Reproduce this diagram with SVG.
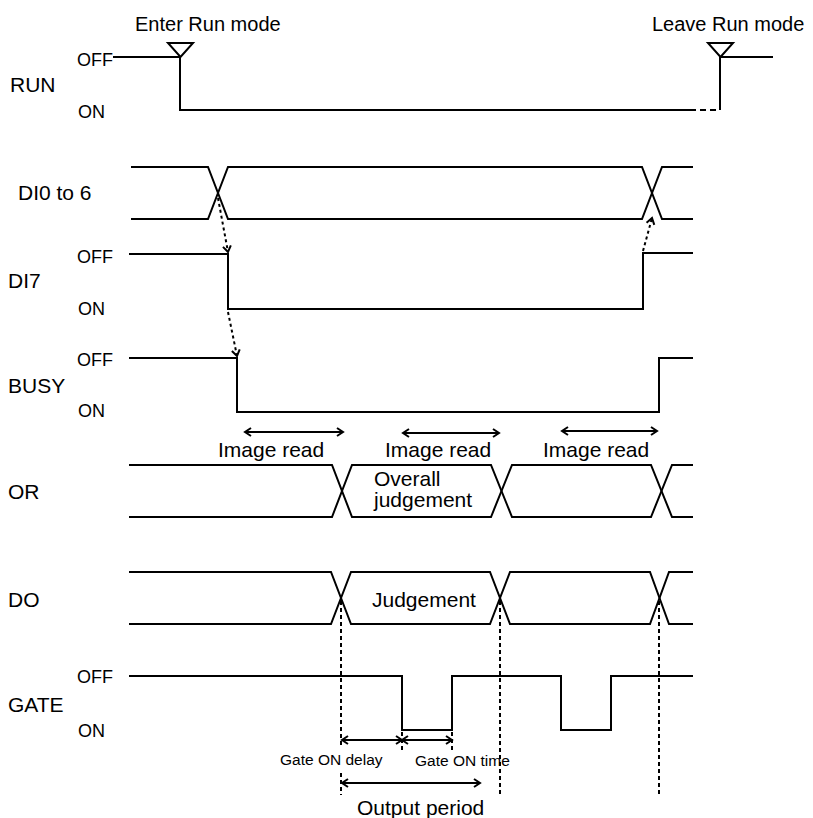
<svg xmlns="http://www.w3.org/2000/svg" width="813" height="818" viewBox="0 0 813 818">
  <style>
    .sig { fill: none; stroke: #000; stroke-width: 2; stroke-linejoin: miter; }
    .dash { fill: none; stroke: #000; stroke-width: 2; stroke-dasharray: 6 4; }
    .dot { fill: none; stroke: #000; stroke-width: 2; stroke-dasharray: 4 3; }
    .causal { fill: none; stroke: #000; stroke-width: 2; stroke-dasharray: 3 3; }
    .dim { fill: none; stroke: #000; stroke-width: 2; }
    .lbl { font-family: "Liberation Sans", Arial, sans-serif; font-size: 21px; fill: #000; }
    .lvl { font-family: "Liberation Sans", Arial, sans-serif; font-size: 18px; fill: #000; }
    .small { font-family: "Liberation Sans", Arial, sans-serif; font-size: 15.5px; fill: #000; }
    .tri { fill: #fff; stroke: #000; stroke-width: 2; }
  </style>
  <defs>
    <marker id="v" viewBox="-8 -6 10 12" refX="0" refY="0" markerWidth="10" markerHeight="12" markerUnits="userSpaceOnUse" orient="auto-start-reverse">
      <path d="M-6,-4 L0,0 L-6,4" fill="none" stroke="#000" stroke-width="2" stroke-dasharray="none"/>
    </marker>
  </defs>

  <g id="run">
    <text class="lbl" x="10" y="92">RUN</text>
    <text class="lvl" x="77" y="66">OFF</text>
    <text class="lvl" x="78" y="118">ON</text>
    <path class="sig" d="M113,57 H180 V110 H690"/>
    <path class="dash" d="M690,110 H720"/>
    <path class="sig" d="M720,110 V57 H773"/>
    <text class="lbl" x="135" y="31" style="font-size:20px">Enter Run mode</text>
    <polygon class="tri" points="168,43 193,43 180.5,57"/>
    <text class="lbl" x="652" y="31" style="font-size:20px">Leave Run mode</text>
    <polygon class="tri" points="708,43 733,43 720.5,57"/>
  </g>

  <g id="di0to6">
    <text class="lbl" x="18" y="200">DI0 to 6</text>
    <path class="sig" d="M131,167 H208 L228,219 H642 L662,167 H693"/>
    <path class="sig" d="M131,219 H208 L228,167 H642 L662,219 H693"/>
  </g>

  <g id="di7">
    <text class="lbl" x="8" y="288">DI7</text>
    <text class="lvl" x="77" y="263">OFF</text>
    <text class="lvl" x="78" y="315">ON</text>
    <path class="sig" d="M129,254 H228 V309 H643 V253 H693"/>
  </g>

  <g id="busy">
    <text class="lbl" x="8" y="393">BUSY</text>
    <text class="lvl" x="77" y="366">OFF</text>
    <text class="lvl" x="78" y="417">ON</text>
    <path class="sig" d="M129,358 H237 V412 H659 V358 H693"/>
  </g>

  <g id="or">
    <text class="lbl" x="8" y="499">OR</text>
    <path class="sig" d="M129,465 H332 L352,517 H491 L512,465 H651 L672,517 H693"/>
    <path class="sig" d="M129,517 H332 L352,465 H491 L512,517 H651 L672,465 H693"/>
    <text class="lbl" x="374" y="486">Overall</text>
    <text class="lbl" x="374" y="507">judgement</text>
  </g>

  <g id="do">
    <text class="lbl" x="8" y="607">DO</text>
    <path class="sig" d="M129,572 H331 L351,624 H490 L510,572 H650 L669,624 H693"/>
    <path class="sig" d="M129,624 H331 L351,572 H490 L510,624 H650 L669,572 H693"/>
    <text class="lbl" x="372" y="607">Judgement</text>
  </g>

  <g id="gate">
    <text class="lbl" x="8" y="712">GATE</text>
    <text class="lvl" x="77" y="683">OFF</text>
    <text class="lvl" x="78" y="737">ON</text>
    <path class="sig" d="M129,676 H402 V730 H452 V676 H561 V730 H611 V676 H693"/>
  </g>

  <g id="connectors">
    <path class="causal" d="M218,198 L228,252" marker-end="url(#v)"/>
    <path class="causal" d="M228,312 L237,356" marker-end="url(#v)"/>
    <path class="causal" d="M643,251 L652,218" marker-end="url(#v)"/>

    <path class="dim" d="M245,432 H343" marker-start="url(#v)" marker-end="url(#v)"/>
    <path class="dim" d="M403,433 H499" marker-start="url(#v)" marker-end="url(#v)"/>
    <path class="dim" d="M562,431 H657" marker-start="url(#v)" marker-end="url(#v)"/>

    <path class="dot" d="M341,601 V747 M341,773 V795"/>
    <path class="dot" d="M500,601 V794"/>
    <path class="dot" d="M659,601 V794"/>
    <path class="dot" d="M402,732 V750"/>
    <path class="dot" d="M452,732 V750"/>

    <path class="dim" d="M342,740 H402" marker-start="url(#v)" marker-end="url(#v)"/>
    <path class="dim" d="M402,740 H452" marker-start="url(#v)" marker-end="url(#v)"/>
    <path class="dim" d="M342,783 H480" marker-start="url(#v)" marker-end="url(#v)"/>
  </g>

  <g id="labels">
    <text class="lbl" x="218" y="457">Image read</text>
    <text class="lbl" x="385" y="457">Image read</text>
    <text class="lbl" x="543" y="457">Image read</text>
    <text class="small" x="280" y="765">Gate ON delay</text>
    <text class="small" x="415" y="766">Gate ON time</text>
    <text class="lbl" x="357" y="815">Output period</text>
  </g>
</svg>
